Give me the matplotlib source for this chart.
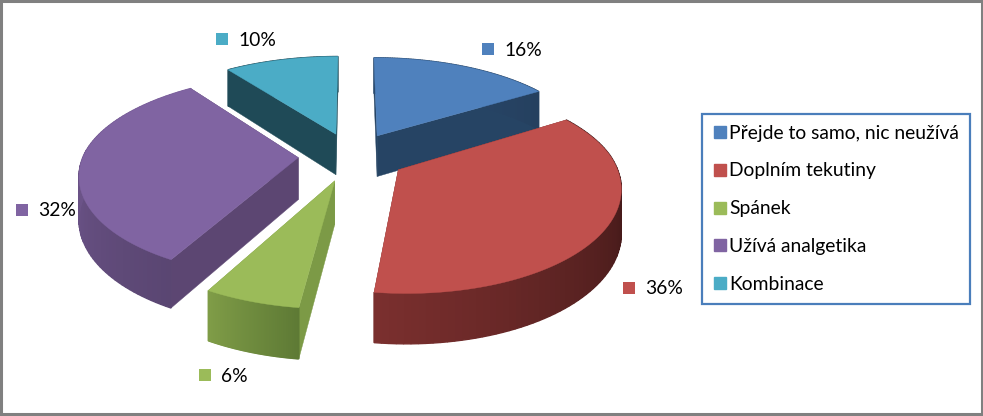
import numpy as np
import matplotlib
matplotlib.use('Agg')
import matplotlib.pyplot as plt
from matplotlib.patches import Polygon, Rectangle
from matplotlib.lines import Line2D

plt.rcParams['font.family'] = ['Lato', 'DejaVu Sans']

categories = ['Přejde to samo, nic neužívá', 'Doplním tekutiny', 'Spánek', 'Užívá analgetika', 'Kombinace']
values = [16, 36, 6, 32, 10]
colors = ['#4F81BD', '#C0504D', '#9BBB59', '#8064A2', '#4BACC6']

# look of the sides: inner wall colour, outer wall colour at slice start / end
inner_walls = ['#264464', '#6E2B2A', '#7C9A46', '#5C4672', '#1F4A57']
outer_start = ['#2A4A6E', '#2A0F0F', '#5E7A35', '#5A4672', '#1F4A57']
outer_end = ['#25405F', '#7A2F2E', '#7F9C47', '#7B5F9C', '#1F4A57']
label_pos = [(488, 49), (629, 288), (205, 375), (22, 210), (222, 39)]

# projection of the tilted pie, in pixels
cx, cy = 352, 156
R, Rk, Rk_back, d = 215, 101, 95, 6.8
depth = 42
explode = 0.25


def project(u, v, z=0):
    s = d / (d + v)
    k = Rk_back if v > 0 else Rk
    return cx + R * u * s, cy - k * v * s + depth * z * s


def blend(c1, c2, t):
    a = np.array(matplotlib.colors.to_rgb(c1))
    b = np.array(matplotlib.colors.to_rgb(c2))
    return tuple(a + (b - a) * t)


fig = plt.figure(figsize=(9.83, 4.16), dpi=100)
ax = fig.add_axes([0, 0, 1, 1])
ax.set_xlim(0, 983)
ax.set_ylim(416, 0)
ax.axis('off')

# chart border
ax.add_patch(Rectangle((1, 1), 980.5, 413, fc='white', ec='#808080', lw=2.2))

edges = np.cumsum([0] + values) / sum(values) * 2 * np.pi
draw_order = [0, 4, 3, 1, 2]

for i in draw_order:
    z = 2 + draw_order.index(i)
    a0, a1 = edges[i], edges[i + 1]
    mid = (a0 + a1) / 2
    ou, ov = explode * np.sin(mid), explode * np.cos(mid)
    ang = np.linspace(a0, a1, 80)
    us = ou + np.sin(ang)
    vs = ov + np.cos(ang)
    apex = project(ou, ov)
    apex_low = project(ou, ov, 1)

    # radial walls
    for u, v in [(us[0], vs[0]), (us[-1], vs[-1])]:
        ax.add_patch(Polygon([apex, project(u, v), project(u, v, 1), apex_low],
                             fc=inner_walls[i], ec=inner_walls[i], lw=0.3, zorder=z))
    # rim, shaded along the arc
    for j in range(len(ang) - 1):
        c = blend(outer_start[i], outer_end[i], j / (len(ang) - 2))
        ax.add_patch(Polygon([project(us[j], vs[j]), project(us[j + 1], vs[j + 1]),
                              project(us[j + 1], vs[j + 1], 1), project(us[j], vs[j], 1)],
                             fc=c, ec=c, lw=1.0, joinstyle='bevel', zorder=z))
    # top face
    top = [apex] + [project(u, v) for u, v in zip(us, vs)]
    ax.add_patch(Polygon(top, fc=colors[i], ec=colors[i], lw=0.3, zorder=z))

# data labels with colour keys
for i, (x, y) in enumerate(label_pos):
    ax.add_patch(Rectangle((x - 6, y - 6), 12, 12, fc=colors[i], ec='none', zorder=10))
    ax.text(x + 16, y + 1, '%d%%' % values[i], fontsize=13.9, color='black', va='center', ha='left', zorder=10)

# legend
handles = [Line2D([], [], ls='none', marker='s', ms=8, mfc=c, mec=c) for c in colors]
leg = ax.legend(handles, categories, loc='upper left', bbox_to_anchor=(702 / 983, 1 - 114 / 416),
                borderaxespad=0, fontsize=13.9, frameon=True, fancybox=False, labelspacing=1.08,
                handletextpad=0.05, handlelength=0.8, borderpad=0.55)
leg.get_frame().set_edgecolor('#4A7EBB')
leg.get_frame().set_linewidth(1.6)
leg.get_frame().set_alpha(1)
leg.set_zorder(20)

fig.savefig('out.png', dpi=100)
